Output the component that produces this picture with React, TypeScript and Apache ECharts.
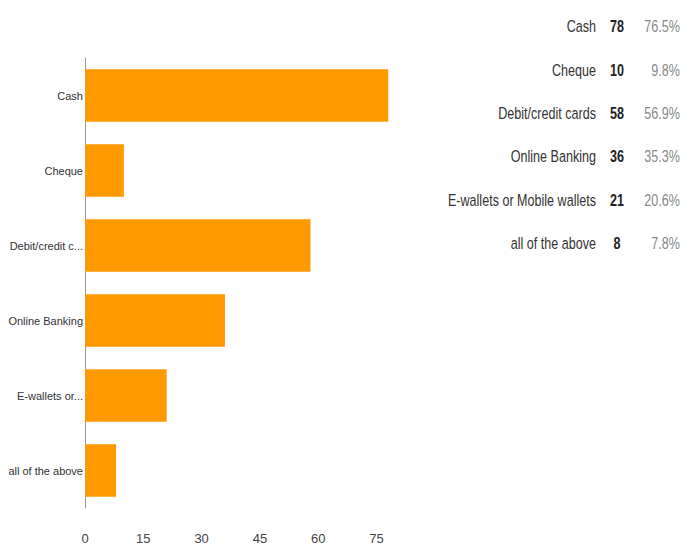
import React, { useEffect, useRef } from "react";
import * as echarts from "echarts";

const categories = ["Cash", "Cheque", "Debit/credit cards", "Online Banking", "E-wallets or Mobile wallets", "all of the above"];
const axisLabels = ["Cash", "Cheque", "Debit/credit c...", "Online Banking", "E-wallets or...", "all of the above"];
const counts = [78, 10, 58, 36, 21, 8];
const percents = ["76.5%", "9.8%", "56.9%", "35.3%", "20.6%", "7.8%"];
const xTicks = [0, 15, 30, 45, 60, 75];

const FONT = "'Liberation Sans', Arial, sans-serif";

export default function App() {
  const ref = useRef<HTMLDivElement>(null);
  useEffect(() => {
    document.body.style.margin = "0";
    const chart = echarts.init(ref.current!, null, { renderer: "svg" });
    const rowY0 = 26;
    const rowStep = 43.4;
    const sx = 0.74;
    const tableGraphics: any[] = [];
    categories.forEach((c, i) => {
      const y = rowY0 + i * rowStep;
      tableGraphics.push({
        type: "text", x: 596, y, scaleX: sx,
        style: { text: c, font: `17px ${FONT}`, fill: "#333", align: "right", verticalAlign: "middle" },
      });
      tableGraphics.push({
        type: "text", x: 617, y, scaleX: sx,
        style: { text: String(counts[i]), font: `bold 17px ${FONT}`, fill: "#222", align: "center", verticalAlign: "middle" },
      });
      tableGraphics.push({
        type: "text", x: 680, y, scaleX: sx,
        style: { text: percents[i], font: `17px ${FONT}`, fill: "#888", align: "right", verticalAlign: "middle" },
      });
    });
    chart.setOption({
      animation: false,
      grid: { left: 85, top: 58, width: 311, height: 450, containLabel: false },
      xAxis: {
        type: "value",
        min: 0,
        max: 80,
        interval: 15,
        axisLine: { show: false },
        axisTick: { show: false },
        splitLine: { show: false },
        axisLabel: {
          showMaxLabel: false,
          margin: 24,
          fontFamily: FONT,
          fontSize: 13,
          color: "#444",
          formatter: (v: number) => (xTicks.includes(v) ? String(v) : ""),
        },
      },
      yAxis: {
        type: "category",
        inverse: true,
        data: categories,
        axisLine: { show: true, lineStyle: { color: "#999", width: 1 } },
        axisTick: { show: false },
        axisLabel: {
          margin: 2,
          fontFamily: FONT,
          fontSize: 11,
          color: "#333",
          formatter: (_v: string, idx: number) => axisLabels[idx],
        },
      },
      series: [
        {
          type: "bar",
          data: counts,
          barCategoryGap: "30%",
          itemStyle: { color: "#FF9900" },
        },
      ],
      graphic: tableGraphics,
    });
    return () => chart.dispose();
  }, []);
  return <div ref={ref} style={{ width: 681, height: 556 }} />;
}
